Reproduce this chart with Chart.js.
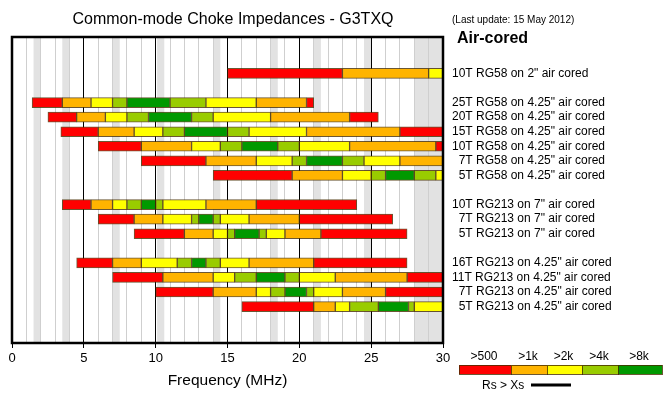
<!DOCTYPE html>
<html>
<head>
<meta charset="utf-8">
<script src="https://cdn.jsdelivr.net/npm/chart.js@4.4.1/dist/chart.umd.min.js"></script>
<style>
  html, body { margin: 0; padding: 0; background: #fff; }
</style>
</head>
<body>
<canvas id="choke-chart" width="670" height="404"></canvas>
<script>
// rows top to bottom, '' = empty spacer row
var rowLabels = [
    '', '',
    '10T RG58 on 2" air cored',
    '',
    '25T RG58 on 4.25" air cored',
    '20T RG58 on 4.25" air cored',
    '15T RG58 on 4.25" air cored',
    '10T RG58 on 4.25" air cored',
    '  7T RG58 on 4.25" air cored',
    '  5T RG58 on 4.25" air cored',
    '',
    '10T RG213 on 7" air cored',
    '  7T RG213 on 7" air cored',
    '  5T RG213 on 7" air cored',
    '',
    '16T RG213 on 4.25" air cored',
    '11T RG213 on 4.25" air cored',
    '  7T RG213 on 4.25" air cored',
    '  5T RG213 on 4.25" air cored',
    '', ''
];

// frequency (MHz) where each impedance band starts/ends, one list per non-empty row
var edges = [
    [15, 23, 29, 30],
    [1.4, 3.5, 5.5, 7, 8, 11, 13.5, 17, 20.5, 21],
    [2.5, 4.5, 6.5, 8, 9.5, 12.5, 14, 18, 23.5, 25.5],
    [3.4, 6, 8.5, 10.5, 12, 15, 16.5, 20.5, 27, 30],
    [6, 9, 12.5, 14.5, 16, 18.5, 20, 23.5, 29.5, 30],
    [9, 13.5, 17, 19.5, 20.5, 23, 24.5, 27, 30],
    [14, 19.5, 23, 25, 26, 28, 29.5, 30],
    [3.5, 5.5, 7, 8, 9, 10, 10.5, 13.5, 17, 24],
    [6, 8.5, 10.5, 12.5, 13, 14, 14.5, 16.5, 20, 26.5],
    [8.5, 12, 14, 15, 15.5, 17.2, 17.7, 19, 21.5, 27.5],
    [4.5, 7, 9, 11.5, 12.5, 13.5, 14.5, 16.5, 21, 27.5],
    [7, 10.5, 14, 15.5, 17, 19, 20, 22.5, 27.5, 30],
    [10, 14, 17, 18, 19, 20.5, 21, 23, 26, 30],
    [16, 21, 22.5, 23.5, 25.5, 27.6, 28, 30]
];

// impedance class of each segment: 0 >500, 1 >1k, 2 >2k, 3 >4k, 4 >8k
var levels = [
    [0, 1, 2],
    [0, 1, 2, 3, 4, 3, 2, 1, 0],
    [0, 1, 2, 3, 4, 3, 2, 1, 0],
    [0, 1, 2, 3, 4, 3, 2, 1, 0],
    [0, 1, 2, 3, 4, 3, 2, 1, 0],
    [0, 1, 2, 3, 4, 3, 2, 1],
    [0, 1, 2, 3, 4, 3, 2],
    [0, 1, 2, 3, 4, 3, 2, 1, 0],
    [0, 1, 2, 3, 4, 3, 2, 1, 0],
    [0, 1, 2, 3, 4, 3, 2, 1, 0],
    [0, 1, 2, 3, 4, 3, 2, 1, 0],
    [0, 1, 2, 3, 4, 3, 2, 1, 0],
    [0, 1, 2, 3, 4, 3, 2, 1, 0],
    [0, 1, 2, 3, 4, 3, 2]
];

var levelNames = ['>500', '>1k', '>2k', '>4k', '>8k'];
var levelColors = ['#ff0000', '#ffb400', '#ffff00', '#99cc00', '#009900'];

// amateur bands shaded grey (MHz)
var hamBands = [[1.5, 2], [3.5, 4], [7, 7.5], [10.1, 10.6], [14, 14.5],
    [18, 18.5], [21, 21.5], [24.5, 25], [28, 30]];

var FONT = "'Liberation Sans', Arial, sans-serif";

// one dataset per segment position, bars overlap on the same row
var datasets = [];
var maxSeg = 0;
levels.forEach(function (l) { if (l.length > maxSeg) maxSeg = l.length; });
for (var k = 0; k < maxSeg; k++) {
    var data = [];
    var cols = [];
    var r = 0;
    rowLabels.forEach(function (lab) {
        if (lab.trim() === '') {
            data.push(null);
            cols.push('transparent');
            return;
        }
        var e = edges[r], l = levels[r];
        r++;
        if (k < l.length) {
            data.push([e[k], e[k + 1]]);
            cols.push(levelColors[l[k]]);
        } else {
            data.push(null);
            cols.push('transparent');
        }
    });
    datasets.push({
        data: data,
        backgroundColor: cols,
        borderColor: 'rgba(70,45,0,0.8)',
        borderWidth: 1,
        borderSkipped: false,
        grouped: false,
        barThickness: 10
    });
}

var decor = {
    id: 'decor',
    beforeDraw: function (chart) {
        var ctx = chart.ctx, a = chart.chartArea, x = chart.scales.x;
        ctx.save();
        ctx.fillStyle = '#e2e2e2';
        hamBands.forEach(function (b) {
            var x1 = x.getPixelForValue(b[0]), x2 = x.getPixelForValue(b[1]);
            ctx.fillRect(x1, a.top, x2 - x1, a.bottom - a.top);
        });
        ctx.restore();
    },
    afterDatasetsDraw: function (chart) {
        var ctx = chart.ctx, a = chart.chartArea;
        ctx.save();
        ctx.strokeStyle = '#000';
        ctx.lineWidth = 2.5;
        ctx.strokeRect(a.left, a.top, a.right - a.left, a.bottom - a.top);
        ctx.restore();
    },
    afterDraw: function (chart) {
        var ctx = chart.ctx;
        ctx.save();
        ctx.fillStyle = '#000';
        ctx.textBaseline = 'middle';
        ctx.textAlign = 'center';
        ctx.font = '16px ' + FONT;
        ctx.fillText('Common-mode Choke Impedances - G3TXQ', 233, 20);

        ctx.textAlign = 'left';
        ctx.font = '10px ' + FONT;
        ctx.fillText('(Last update: 15 May 2012)', 452, 20);
        ctx.font = 'bold 16px ' + FONT;
        ctx.fillText('Air-cored', 457, 39);

        // colour key
        var lx = 459, ly = 365, lh = 9;
        var segW = [52, 36, 35, 36, 44];
        ctx.font = '12px ' + FONT;
        ctx.textAlign = 'center';
        for (var i = 0; i < levelColors.length; i++) {
            ctx.fillStyle = levelColors[i];
            ctx.fillRect(lx, ly, segW[i], lh);
            ctx.strokeStyle = 'rgba(70,45,0,0.8)';
            ctx.lineWidth = 1;
            ctx.strokeRect(lx + 0.5, ly + 0.5, segW[i], lh);
            ctx.fillStyle = '#000';
            ctx.fillText(levelNames[i], lx + segW[i] / 2 - 1, 357);
            lx += segW[i];
        }
        ctx.textAlign = 'left';
        ctx.fillText('Rs > Xs', 482, 386);
        ctx.strokeStyle = '#000';
        ctx.lineWidth = 3;
        ctx.beginPath();
        ctx.moveTo(531, 385);
        ctx.lineTo(571, 385);
        ctx.stroke();
        ctx.restore();
    }
};

new Chart(document.getElementById('choke-chart').getContext('2d'), {
    type: 'bar',
    data: {
        labels: rowLabels,
        datasets: datasets
    },
    options: {
        indexAxis: 'y',
        responsive: false,
        animation: false,
        layout: { padding: { left: 12, top: 37, right: 0, bottom: 0 } },
        plugins: {
            legend: { display: false },
            tooltip: { enabled: false }
        },
        scales: {
            x: {
                type: 'linear',
                min: 0,
                max: 30,
                afterFit: function (scale) { scale.height = 61; },
                ticks: {
                    stepSize: 1,
                    autoSkip: false,
                    maxRotation: 0,
                    color: '#000',
                    font: { family: FONT, size: 13 },
                    callback: function (v) { return v % 5 === 0 ? v : ''; }
                },
                grid: {
                    color: function (c) { return c.tick && c.tick.value % 5 === 0 ? '#000' : '#cfcfcf'; },
                    tickColor: function (c) { return c.tick && c.tick.value % 5 === 0 ? '#000' : 'transparent'; },
                    tickLength: 5,
                    lineWidth: 1
                },
                border: { display: false },
                title: {
                    display: true,
                    text: 'Frequency (MHz)',
                    color: '#000',
                    font: { family: FONT, size: 15.5 },
                    padding: { top: 0, bottom: 14 }
                }
            },
            y: {
                type: 'category',
                position: 'right',
                afterFit: function (scale) { scale.width = 227; },
                grid: { display: false, drawTicks: false },
                border: { display: false },
                ticks: {
                    autoSkip: false,
                    padding: 9,
                    color: '#000',
                    font: { family: FONT, size: 12 }
                }
            }
        }
    },
    plugins: [decor]
});
</script>
</body>
</html>
